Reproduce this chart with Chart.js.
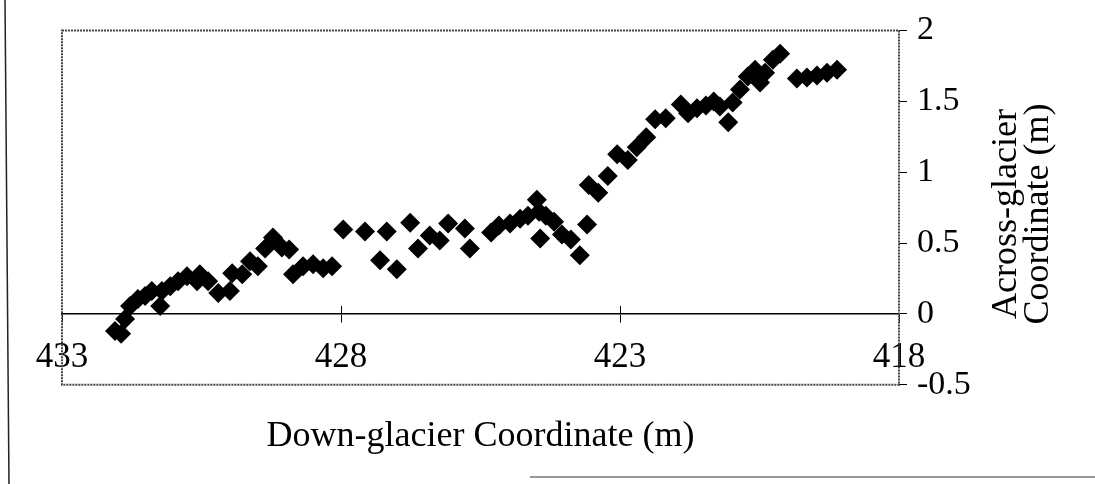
<!DOCTYPE html>
<html>
<head>
<meta charset="utf-8">
<script src="https://cdn.jsdelivr.net/npm/chart.js@4.4.1/dist/chart.umd.min.js"></script>
<style>
  html, body { margin: 0; padding: 0; background: #fff; }
  #wrap { width: 1095px; height: 484px; position: relative; }
</style>
</head>
<body>
<div id="wrap"><canvas id="glacier-chart"></canvas></div>
<script>
const downGlacier = [
  432.05, 431.94, 431.87, 431.78, 431.64, 431.51, 431.39, 431.24, 431.21, 431.06,
  430.92, 430.76, 430.58, 430.53, 430.38, 430.20, 429.99, 429.95, 429.77, 429.63,
  429.49, 429.36, 429.22, 429.06, 428.93, 428.86, 428.68, 428.50, 428.32, 428.16,
  427.96, 427.57, 427.30, 427.18, 427.00, 426.76, 426.62, 426.41, 426.23, 426.08,
  425.78, 425.69, 425.31, 425.17, 424.97, 424.79, 424.65, 424.49, 424.45, 424.43,
  424.33, 424.18, 424.04, 423.88, 423.72, 423.59, 423.56, 423.39, 423.22, 423.05,
  422.86, 422.70, 422.53, 422.37, 422.18, 421.91, 421.78, 421.62, 421.46, 421.32,
  421.21, 421.06, 420.98, 420.85, 420.71, 420.58, 420.49, 420.40, 420.26, 420.13,
  419.83, 419.65, 419.47, 419.29, 419.11
];

const acrossGlacier = [
  -0.12, -0.14, -0.035, 0.056, 0.105, 0.126, 0.161, 0.056, 0.161, 0.196,
  0.231, 0.266, 0.231, 0.280, 0.231, 0.147, 0.161, 0.287, 0.280, 0.371,
  0.336, 0.462, 0.539, 0.469, 0.455, 0.280, 0.336, 0.350, 0.322, 0.336,
  0.595, 0.581, 0.378, 0.581, 0.315, 0.644, 0.462, 0.553, 0.518, 0.637,
  0.602, 0.462, 0.574, 0.623, 0.637, 0.672, 0.693, 0.805, 0.721, 0.532,
  0.693, 0.651, 0.560, 0.525, 0.413, 0.630, 0.910, 0.854, 0.973, 1.127,
  1.085, 1.176, 1.246, 1.373, 1.380, 1.478, 1.415, 1.450, 1.471, 1.499,
  1.464, 1.352, 1.492, 1.583, 1.674, 1.723, 1.632, 1.702, 1.793, 1.835,
  1.660, 1.667, 1.681, 1.702, 1.723
];

const xTicks = [433, 428, 423, 418];
const yTicks = [-0.5, 0, 0.5, 1, 1.5, 2];
const xTitle = "Down-glacier Coordinate (m)";
const yTitle = ["Across-glacier", "Coordinate (m)"];

const serif = "'Liberation Serif', 'DejaVu Serif', serif";

const points = downGlacier.map((x, i) => ({ x: x, y: acrossGlacier[i] }));

// dotted plot frame, scan edges and the rotated right-hand title
const framePlugin = {
  id: "frame",
  beforeDatasetsDraw(chart) {
    const { ctx, chartArea } = chart;
    ctx.save();
    ctx.strokeStyle = "#444";
    ctx.lineWidth = 2;
    ctx.setLineDash([2, 1]);
    ctx.strokeRect(chartArea.left, chartArea.top,
      chartArea.right - chartArea.left, chartArea.bottom - chartArea.top);
    ctx.setLineDash([]);
    ctx.lineWidth = 1.5;
    ctx.strokeStyle = "#222";
    ctx.beginPath();
    ctx.moveTo(5, 0);
    ctx.lineTo(9, 484);
    ctx.stroke();
    ctx.strokeStyle = "#777";
    ctx.beginPath();
    ctx.moveTo(530, 477);
    ctx.lineTo(1095, 477);
    ctx.stroke();
    // short upward halves of the x ticks, so they cross the zero line
    const xs = chart.scales.x;
    const y0 = chart.scales.y.getPixelForValue(0);
    ctx.strokeStyle = "#000";
    ctx.lineWidth = 1;
    xTicks.slice(1, 3).forEach((v) => {
      const px = Math.round(xs.getPixelForValue(v)) + 0.5;
      ctx.beginPath();
      ctx.moveTo(px, y0);
      ctx.lineTo(px, y0 - 8);
      ctx.stroke();
    });
    ctx.restore();
  },
  afterDraw(chart) {
    const { ctx } = chart;
    ctx.save();
    ctx.translate(1022, 214);
    ctx.rotate(-Math.PI / 2);
    ctx.fillStyle = "#000";
    ctx.font = "36px " + serif;
    ctx.textAlign = "center";
    ctx.textBaseline = "middle";
    ctx.fillText(yTitle[0], 0, -15);
    ctx.fillText(yTitle[1], 0, 17);
    ctx.restore();
  }
};

const init = () => {
  const canvas = document.querySelector("#glacier-chart");
  new Chart(canvas, {
    type: "scatter",
    data: {
      datasets: [{
        data: points,
        pointStyle: "rectRot",
        pointRadius: 10,
        pointHoverRadius: 10,
        backgroundColor: "#000",
        borderColor: "#000",
        borderWidth: 0,
      }],
    },
    options: {
      responsive: true,
      maintainAspectRatio: false,
      animation: false,
      layout: { padding: { left: 62, top: 28, right: 0, bottom: 0 } },
      plugins: {
        legend: { display: false },
        tooltip: { enabled: false },
        title: {
          display: true,
          position: "bottom",
          fullSize: false,
          text: xTitle,
          color: "#000",
          font: { family: serif, size: 36, weight: "normal", lineHeight: 1.2 },
          padding: { top: 30, bottom: 26 },
        },
      },
      scales: {
        x: {
          type: "linear",
          reverse: true,
          min: 418,
          max: 433,
          position: { y: 0 },
          afterBuildTicks: (scale) => {
            scale.ticks = xTicks.map((v) => ({ value: v }));
          },
          ticks: {
            color: "#000",
            font: { family: serif, size: 35 },
            padding: 15,
            maxRotation: 0,
            autoSkip: false,
            callback: (v) => String(v),
          },
          grid: { drawOnChartArea: false, tickLength: 8, color: "#000" },
          border: { display: true, color: "#000", width: 1.5 },
        },
        y: {
          type: "linear",
          position: "right",
          min: -0.5,
          max: 2,
          afterBuildTicks: (scale) => {
            scale.ticks = yTicks.map((v) => ({ value: v }));
          },
          afterFit: (scale) => { scale.width = 196; },
          ticks: {
            color: "#000",
            font: { family: serif, size: 34 },
            padding: 10,
            callback: (v) => String(v),
          },
          grid: { drawOnChartArea: false, tickLength: 8, color: "#000" },
          border: { display: false },
        },
      },
    },
    plugins: [framePlugin],
  });
};

document.addEventListener("DOMContentLoaded", function () {
  init();
});
</script>
</body>
</html>
